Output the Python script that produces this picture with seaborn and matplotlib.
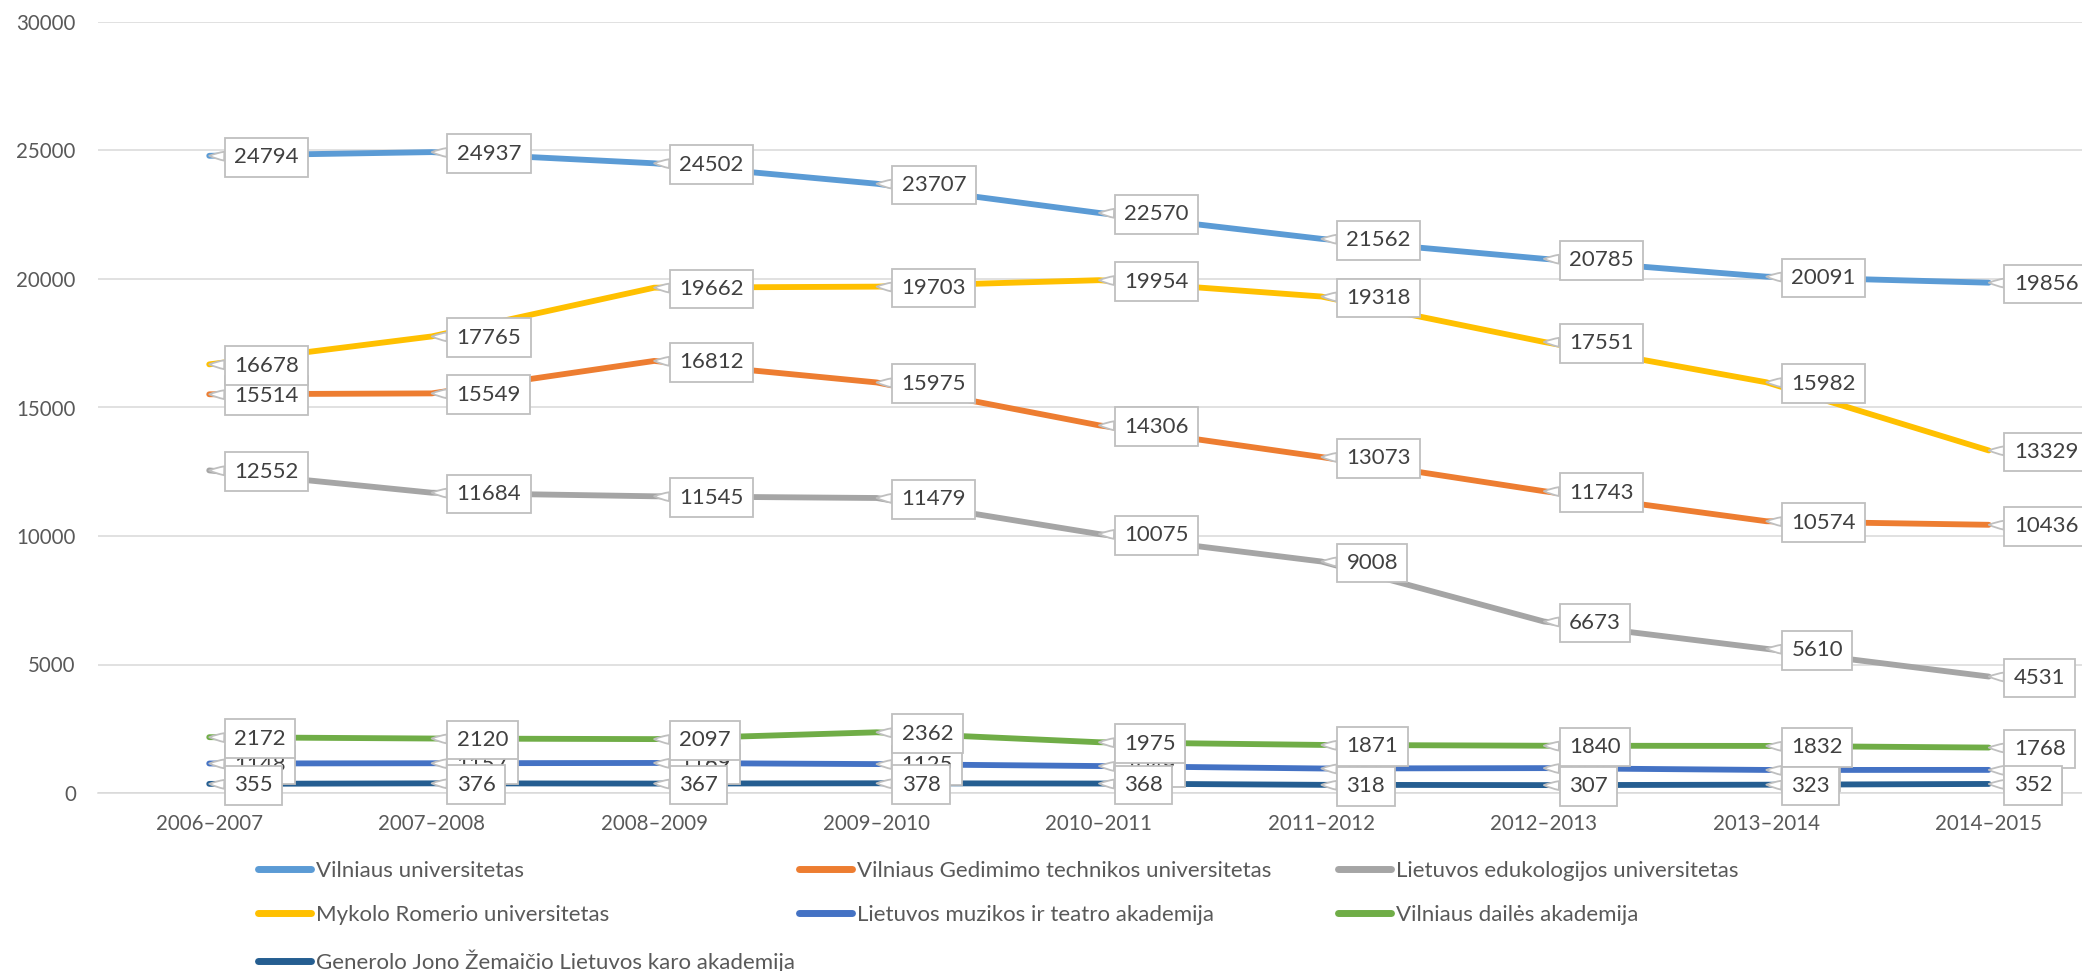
import pandas as pd
import matplotlib
matplotlib.use('Agg')
import matplotlib.pyplot as plt
import seaborn as sns

# Data
years = ['2006–2007', '2007–2008', '2008–2009', '2009–2010', '2010–2011',
         '2011–2012', '2012–2013', '2013–2014', '2014–2015']
universities = ['Vilniaus universitetas',
                'Vilniaus Gedimimo technikos universitetas',
                'Lietuvos edukologijos universitetas',
                'Mykolo Romerio universitetas',
                'Lietuvos muzikos ir teatro akademija',
                'Vilniaus dailės akademija',
                'Generolo Jono Žemaičio Lietuvos karo akademija']
vu = [24794, 24937, 24502, 23707, 22570, 21562, 20785, 20091, 19856]
vgtu = [15514, 15549, 16812, 15975, 14306, 13073, 11743, 10574, 10436]
leu = [12552, 11684, 11545, 11479, 10075, 9008, 6673, 5610, 4531]
mru = [16678, 17765, 19662, 19703, 19954, 19318, 17551, 15982, 13329]
lmta = [1148, 1157, 1169, 1125, 1049, 954, 968, 897, 899]
vda = [2172, 2120, 2097, 2362, 1975, 1871, 1840, 1832, 1768]
lka = [355, 376, 367, 378, 368, 318, 307, 323, 352]
colors = ['#5B9BD5', '#ED7D31', '#A5A5A5', '#FFC000', '#4472C4', '#70AD47', '#255E91']

series = [vu, vgtu, leu, mru, lmta, vda, lka]
rows = []
for name, vals in zip(universities, series):
    for y, v in zip(years, vals):
        rows.append({'Metai': y, 'Universitetas': name, 'Studentai': v})
df = pd.DataFrame(rows)

sns.set_style('white')
plt.rcParams['font.family'] = ['Lato', 'DejaVu Sans']

W, H = 2082, 971
fig = plt.figure(figsize=(W / 100, H / 100), dpi=100)
ax = fig.add_axes([98 / W, (H - 793) / H, 2002 / W, 771 / H])

sns.lineplot(data=df, x='Metai', y='Studentai', hue='Universitetas',
             hue_order=universities, palette=colors, linewidth=4.2,
             legend=False, ax=ax, solid_capstyle='round', sort=False)

ax.set_xlim(-0.5, len(years) - 0.5)
ax.set_ylim(0, 30000)
ax.set_yticks(range(0, 30001, 5000))
ax.yaxis.grid(True, color='#d9d9d9', linewidth=1.1)
ax.set_axisbelow(True)
for s in ['top', 'right', 'left']:
    ax.spines[s].set_visible(False)
ax.spines['bottom'].set_color('#d9d9d9')
ax.spines['bottom'].set_linewidth(1.1)
ax.tick_params(axis='both', length=0, labelsize=14.8, labelcolor='#595959')
ax.tick_params(axis='y', pad=16)
ax.tick_params(axis='x', pad=15)
ax.set_xlabel('')
ax.set_ylabel('')

# data labels (callouts)
for name, vals in zip(universities, series):
    for i, v in enumerate(vals):
        ax.annotate(str(v), xy=(i, v), xytext=(18, -1), textcoords='offset points',
                    ha='left', va='center', fontsize=16, color='#404040',
                    bbox=dict(boxstyle='square,pad=0.42', fc='white', ec='#bfbfbf', lw=1.3),
                    arrowprops=dict(arrowstyle='wedge,tail_width=0.4,shrink_factor=0.6',
                                    fc='white', ec='#bfbfbf', lw=1.3,
                                    shrinkA=0, shrinkB=0))

# legend in three fixed columns
handles = [plt.Line2D([], [], color=c, linewidth=5) for c in colors]
cols = [[0, 3, 6], [1, 4], [2, 5]]
col_x = [258, 799, 1338]
for idx, cx in zip(cols, col_x):
    fig.legend([handles[k] for k in idx], [universities[k] for k in idx],
               loc='upper left', bbox_to_anchor=(cx / W, (H - 861) / H),
               frameon=False, fontsize=16, labelcolor='#595959',
               handlelength=2.4, handletextpad=0.2, borderpad=0,
               borderaxespad=0, labelspacing=1.08)

fig.savefig('out.png', dpi=100)
